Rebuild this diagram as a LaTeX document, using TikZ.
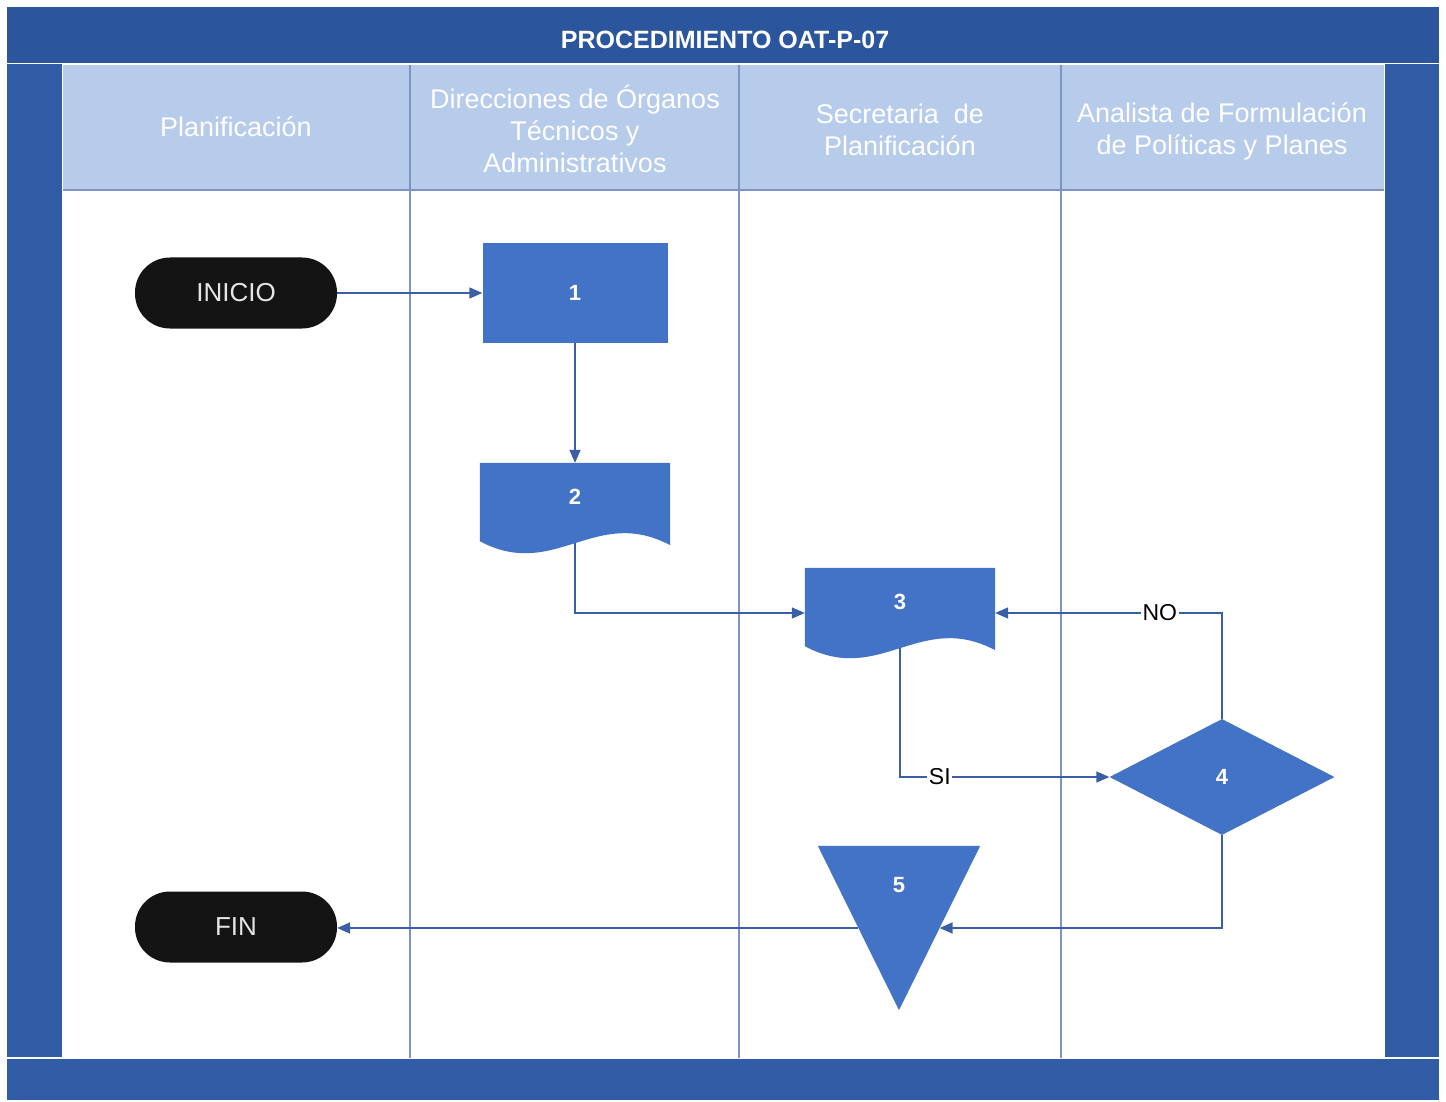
\documentclass[tikz,border=0pt]{standalone}
\usepackage{fontspec}
\setmainfont{Liberation Sans}
\usetikzlibrary{shapes.geometric,arrows.meta,calc}

\definecolor{framebg}{HTML}{2F5CA5}
\definecolor{titlebg}{HTML}{2B559C}
\definecolor{headbg}{HTML}{B7CBEA}
\definecolor{shapeblue}{HTML}{4373C6}
\definecolor{lineblue}{HTML}{3B5EA8}
\definecolor{lanegray}{HTML}{7F93C2}
\definecolor{termblack}{HTML}{141414}

\pgfdeclarelayer{bg}
\pgfdeclarelayer{wires}
\pgfdeclarelayer{fills}
\pgfsetlayers{bg,wires,fills,main}

\begin{document}
\begin{tikzpicture}[x=1pt,y=-1pt,
  lane/.style={draw=lanegray,line width=1.3pt},
  conn/.style={draw=lineblue,line width=1.6pt,-{Triangle[length=13pt,width=11pt]}},
  headtext/.style={text=white,align=center,font=\fontsize{27}{32}\selectfont},
  titletext/.style={text=white,font=\bfseries\fontsize{25}{25}\selectfont},
  term/.style={rectangle,rounded corners=35pt,fill=termblack,minimum width=202pt,
    minimum height=71pt,inner sep=0pt,text=white!90!black,font=\fontsize{26}{26}\selectfont},
  num/.style={text=white,font=\bfseries\fontsize{22}{22}\selectfont},
  procbox/.style={rectangle,fill=shapeblue,minimum width=185pt,minimum height=100pt,inner sep=0pt,num},
  docbox/.style={rectangle,minimum width=190pt,minimum height=68pt,inner sep=0pt,num},
  decision/.style={diamond,fill=shapeblue,minimum width=225pt,minimum height=116pt,inner sep=0pt,num},
  mergebox/.style={rectangle,minimum width=162pt,minimum height=164pt,inner sep=0pt},
  tag/.style={fill=white,inner sep=1.5pt,text=black,font=\fontsize{23}{23}\selectfont}
]
\useasboundingbox (0,0) rectangle (1446,1102);

% frame, header band and swimlanes
\begin{pgfonlayer}{bg}
  \fill[white] (0,0) rectangle (1446,1102);
  \fill[titlebg] (7,7) rectangle (1439,63);
  \fill[framebg] (7,64) rectangle (62,1057);
  \fill[framebg] (1385,64) rectangle (1439,1057);
  \fill[framebg] (7,1059) rectangle (1439,1100);
  \fill[headbg] (63,65) rectangle (1384,190);
  \draw[lane] (63,190) -- (1384,190);
  \foreach \lx in {410,739,1061} {
    \draw[lane] (\lx,65) -- (\lx,1058);
  }
\end{pgfonlayer}

\node[titletext] (title) at (725,40) {PROCEDIMIENTO OAT-P-07};
\node[headtext] (h1) at (236,127) {Planificación};
\node[headtext] (h2) at (575,129) {Direcciones de Órganos\\Técnicos y\\Administrativos};
\node[headtext] (h3) at (900,130) {Secretaria~ de\\Planificación};
\node[headtext] (h4) at (1222,131) {Analista de Formulación\\de Políticas y Planes};

% flow elements
\node[term] (inicio) at (236,293) {INICIO};
\node[procbox] (p1) at (575,293) {1};
\node[docbox] (d2) at (575,497) {2};
\node[docbox] (d3) at (900,602) {3};
\node[decision] (d4) at (1222,777) {4};
\node[mergebox,label={[num,anchor=center,yshift=43pt]center:5}] (t5) at (899,928) {};
\node[term] (fin) at (236,927) {FIN};

\coordinate (t5r) at ($(t5.north east)!0.5!(t5.south)$);
\coordinate (t5l) at ($(t5.north west)!0.5!(t5.south)$);

% document and merge shapes
\begin{pgfonlayer}{fills}
  \foreach \d in {d2,d3} {
    \fill[shapeblue] (\d.north west) -- (\d.north east) -- ([yshift=-14pt]\d.south east)
      .. controls ([xshift=115pt,yshift=26pt]\d.south west)
         and ([xshift=75pt,yshift=-50pt]\d.south west) .. ([yshift=-10pt]\d.south west) -- cycle;
  }
  \fill[shapeblue] (t5.north west) -- (t5.north east) -- (t5.south) -- cycle;
\end{pgfonlayer}

% connectors
\begin{pgfonlayer}{wires}
  \draw[conn] (inicio.east) -- (p1.west);
  \draw[conn] (p1.south) -- (d2.north);
  \draw[conn] (d2.south) |- ([yshift=-11pt]d3.west);
  \draw[conn] (d3.south) |- node[tag,pos=0.595]{SI} (d4.west);
  \draw[conn] (d4.north) |- node[tag,pos=0.637]{NO} ([yshift=-11pt]d3.east);
  \draw[conn] (d4.south) |- (t5r);
  \draw[conn] (t5l) -- (t5l -| fin.east);
\end{pgfonlayer}
\end{tikzpicture}
\end{document}
